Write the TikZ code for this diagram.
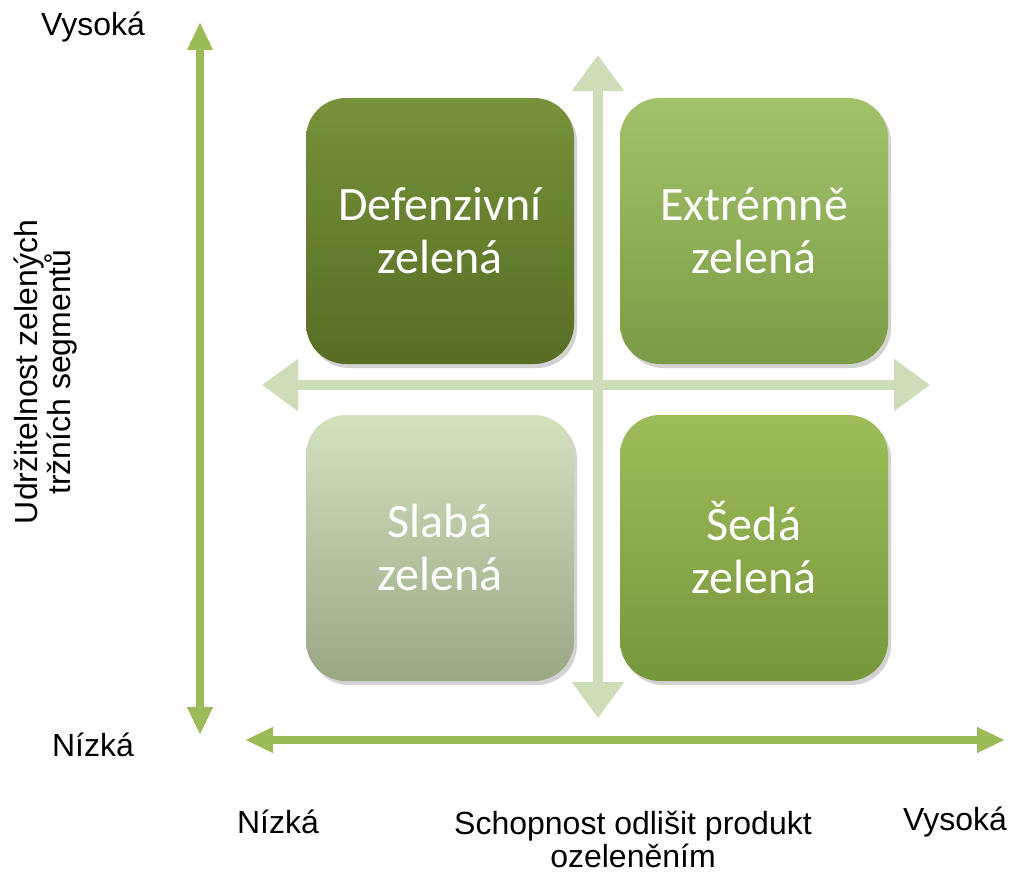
\documentclass[tikz,border=0pt]{standalone}
\usepackage{fontspec}
\setmainfont{Liberation Sans}
\newfontfamily\boxfont{Carlito}
\usepackage{xcolor}
\usetikzlibrary{arrows.meta,shadows,positioning}

\definecolor{axisgreen}{RGB}{155,187,89}
\definecolor{crossgreen}{RGB}{204,221,184}
\definecolor{defTop}{RGB}{118,146,58}
\definecolor{defBot}{RGB}{86,110,37}
\definecolor{extTop}{RGB}{162,194,106}
\definecolor{extBot}{RGB}{124,155,70}
\definecolor{slaTop}{RGB}{210,226,190}
\definecolor{slaBot}{RGB}{152,168,132}
\definecolor{sedTop}{RGB}{157,189,90}
\definecolor{sedBot}{RGB}{118,150,60}

\tikzset{
  quadbox/.style={rounded corners=40pt, minimum width=268pt, minimum height=266pt,
    align=center, text=white, font=\boxfont\fontsize{48}{53}\selectfont,
    drop shadow={shadow xshift=3pt, shadow yshift=-4pt, opacity=0.35}},
  axislabel/.style={font=\fontsize{32}{33}\selectfont, align=center, inner sep=1pt},
  axisarrow/.style={draw=axisgreen, line width=8pt,
    {Triangle[length=28pt,width=24pt]}-{Triangle[length=28pt,width=24pt]}},
  crossarrow/.style={draw=crossgreen, line width=10pt,
    {Triangle[length=36pt,width=50pt]}-{Triangle[length=36pt,width=50pt]}}
}

\begin{document}
\begin{tikzpicture}[x=1pt, y=-1pt]
\useasboundingbox (0,0) rectangle (1009,872);

% cross in the middle
\coordinate (CT) at (598,55);
\coordinate (CB) at (598,718);
\coordinate (CL) at (262,385);
\coordinate (CR) at (930,385);
\draw[crossarrow] (CT) -- (CB);
\draw[crossarrow] (CL) -- (CR);

% four quadrants
\node[quadbox, top color=defTop, bottom color=defBot] (DEF) at (440,231) {Defenzivní\\zelená};
\node[quadbox, top color=extTop, bottom color=extBot, right of=DEF, node distance=314pt] (EXT) {Extrémně\\zelená};
\node[quadbox, top color=slaTop, bottom color=slaBot, below of=DEF, node distance=317pt] (SLA) {Slabá\\zelená};
\node[quadbox, top color=sedTop, bottom color=sedBot, right of=SLA, node distance=314pt] (SED) {Šedá\\zelená};

% axes
\coordinate (YT) at (200,22);
\coordinate (YB) at (200,735);
\coordinate (XL) at (245,740);
\coordinate (XR) at (1005,740);
\draw[axisarrow] (YT) -- (YB);
\draw[axisarrow] (XL) -- (XR);

% axis labels
\node[axislabel] (YHI) at (93,27) {Vysoká};
\node[axislabel] (YLO) at (93,745) {Nízká};
\node[axislabel, rotate=90] (YLAB) at (46,372) {Udržitelnost zelených\\tržních segmentů};
\node[axislabel] (XLO) at (278,822) {Nízká};
\node[axislabel] (XLAB) at (633,839) {Schopnost odlišit produkt\\ozeleněním};
\node[axislabel] (XHI) at (955,822) {Vysoká};
\end{tikzpicture}
\end{document}
